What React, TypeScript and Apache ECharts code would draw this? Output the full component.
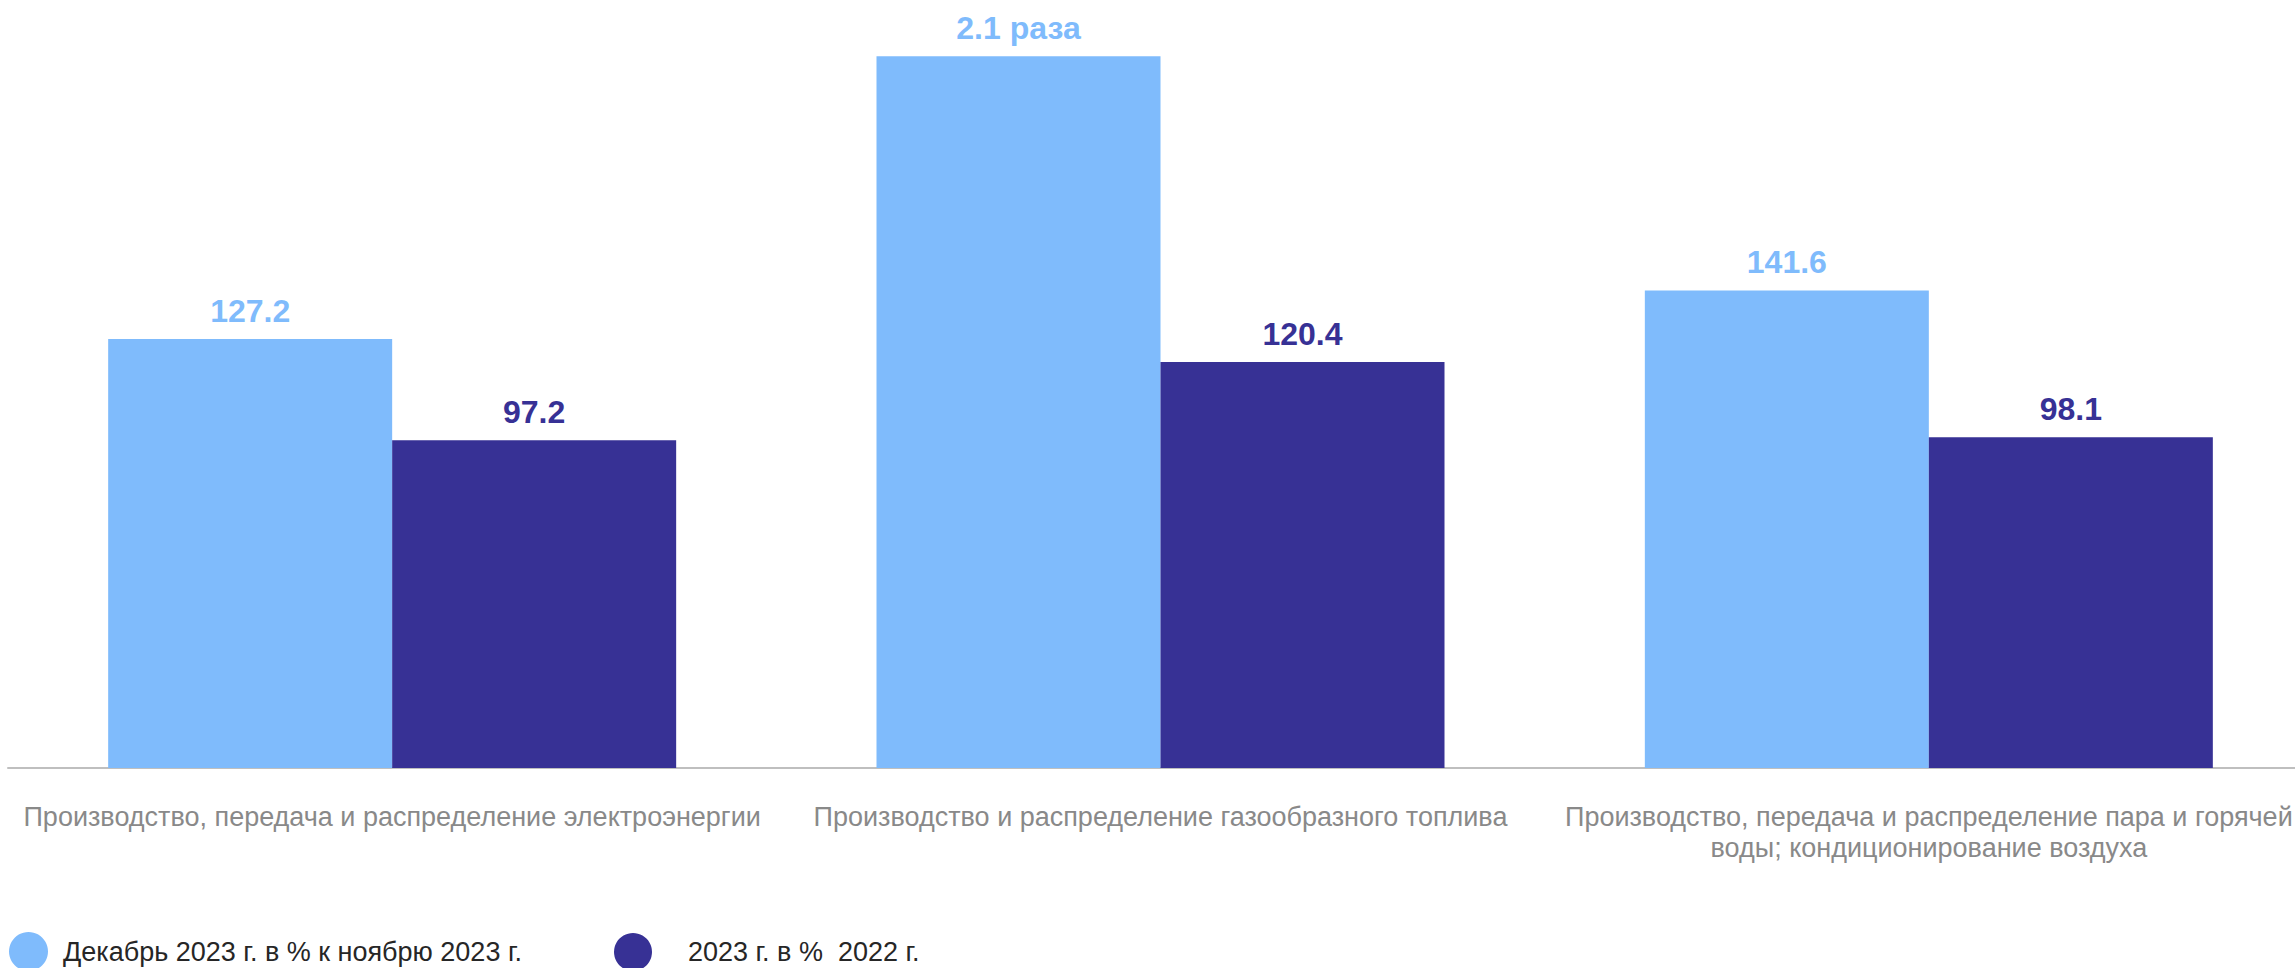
import React, { useEffect, useRef } from "react";
import * as echarts from "echarts";

const categories = [
  "Производство, передача и распределение электроэнергии",
  "Производство и распределение газообразного топлива",
  "Производство, передача и распределение пара и горячей воды; кондиционирование воздуха",
];
const categoryLines = [
  ["Производство, передача и распределение электроэнергии"],
  ["Производство и распределение газообразного топлива"],
  ["Производство, передача и распределение пара и горячей", "воды; кондиционирование воздуха"],
];
const seriesNames = ["Декабрь 2023 г. в % к ноябрю 2023 г.", "2023 г. в %  2022 г."];
const decVsNov = [127.2, 211, 141.6];
const decVsNovLabels = ["127.2", "2.1 раза", "141.6"];
const yearVsYear = [97.2, 120.4, 98.1];
const yearVsYearLabels = ["97.2", "120.4", "98.1"];

const LIGHT = "#7FBBFC";
const DARK = "#373195";
const FONT = "'Liberation Sans', Arial, sans-serif";

export default function App() {
  const ref = useRef<HTMLDivElement>(null);
  useEffect(() => {
    if (!ref.current) return;
    const chart = echarts.init(ref.current, undefined, { renderer: "svg" });
    chart.setOption({
      animation: false,
      textStyle: { fontFamily: FONT },
      grid: {
        left: 8,
        width: 2305,
        top: 26,
        bottom: 200,
        containLabel: false,
        outerBoundsMode: "none",
      },
      legend: [
        {
          data: [seriesNames[0]],
          left: 9,
          top: 932,
          padding: 0,
          icon: "circle",
          itemWidth: 39,
          itemHeight: 39,
          textStyle: { fontSize: 27, color: "#262626", fontFamily: FONT, padding: [3, 0, 0, 10] },
        },
        {
          data: [seriesNames[1]],
          left: 614,
          top: 933,
          padding: 0,
          icon: "circle",
          itemWidth: 38,
          itemHeight: 38,
          textStyle: { fontSize: 27, color: "#262626", fontFamily: FONT, padding: [9, 0, 0, 31] },
        },
      ],
      xAxis: {
        type: "category",
        data: categories,
        axisLine: { lineStyle: { color: "#BFBFBF", width: 2 } },
        axisTick: { show: false },
        axisLabel: {
          interval: 0,
          fontSize: 27,
          color: "#898989",
          fontFamily: FONT,
          margin: 33,
          lineHeight: 31,
          align: "center",
          formatter: (_v: string, i: number) => categoryLines[i].join("\n"),
        },
      },
      yAxis: {
        type: "value",
        min: 0,
        max: 220,
        show: false,
        splitLine: { show: false },
      },
      series: [
        {
          name: seriesNames[0],
          type: "bar",
          barWidth: 284,
          barGap: "0%",
          itemStyle: { color: LIGHT },
          data: decVsNov,
          label: {
            show: true,
            position: "top",
            distance: 12,
            fontSize: 32,
            fontWeight: "bold",
            color: LIGHT,
            fontFamily: FONT,
            formatter: (p: any) => decVsNovLabels[p.dataIndex],
          },
        },
        {
          name: seriesNames[1],
          type: "bar",
          barWidth: 284,
          barGap: "0%",
          itemStyle: { color: DARK },
          data: yearVsYear,
          label: {
            show: true,
            position: "top",
            distance: 12,
            fontSize: 32,
            fontWeight: "bold",
            color: DARK,
            fontFamily: FONT,
            formatter: (p: any) => yearVsYearLabels[p.dataIndex],
          },
        },
      ],
    });
    return () => chart.dispose();
  }, []);
  return (
    <div
      ref={ref}
      style={{ position: "fixed", left: 0, top: 0, width: 2295, height: 968, background: "#fff" }}
    />
  );
}
